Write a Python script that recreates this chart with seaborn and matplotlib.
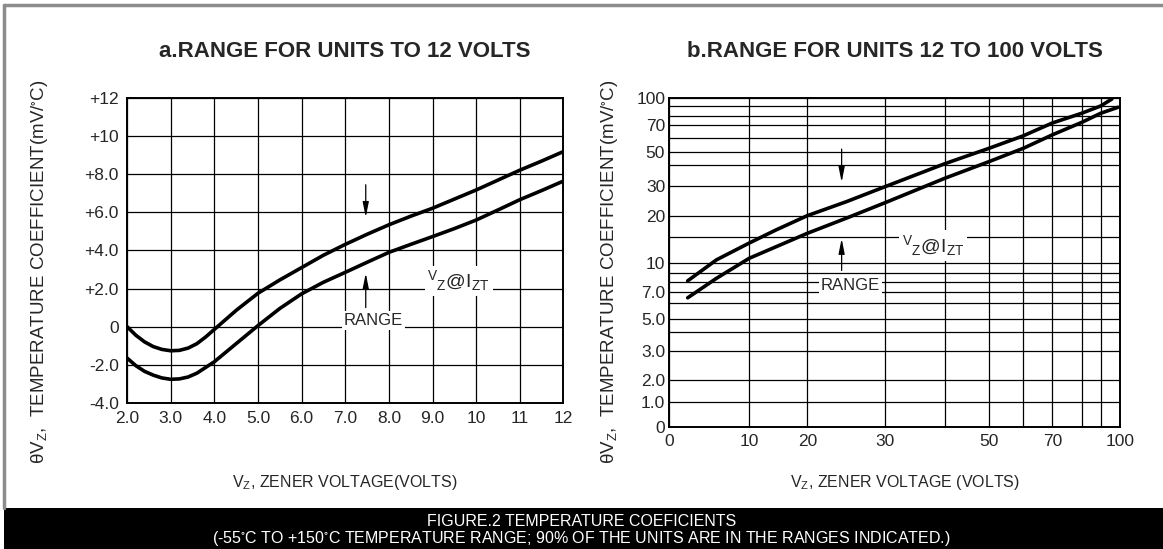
import numpy as np
import pandas as pd
import matplotlib
matplotlib.use("Agg")
import matplotlib.pyplot as plt
import seaborn as sns

# Chart a: units up to 12 V
vz_a = [2.0, 2.2, 2.4, 2.6, 2.8, 3.0, 3.2, 3.4, 3.6, 3.8, 4.0, 4.5, 5.0, 5.5,
        6.0, 6.5, 7.0, 7.5, 8.0, 8.5, 9.0, 9.5, 10.0, 10.5, 11.0, 11.5, 12.0]
tc_a_upper = [0.0, -0.45, -0.8, -1.05, -1.2, -1.27, -1.25, -1.13, -0.9, -0.55, -0.15,
              0.85, 1.75, 2.45, 3.1, 3.75, 4.32, 4.85, 5.35, 5.8, 6.22, 6.7, 7.18,
              7.7, 8.22, 8.7, 9.2]
tc_a_lower = [-1.65, -2.05, -2.35, -2.55, -2.7, -2.77, -2.75, -2.65, -2.45, -2.15, -1.85,
              -0.9, 0.05, 0.95, 1.72, 2.33, 2.85, 3.38, 3.9, 4.32, 4.73, 5.15, 5.6,
              6.13, 6.67, 7.15, 7.65]
xticks_a = [2, 3, 4, 5, 6, 7, 8, 9, 10, 11, 12]
xlabels_a = ["2.0", "3.0", "4.0", "5.0", "6.0", "7.0", "8.0", "9.0", "10", "11", "12"]
yticks_a = [-4, -2, 0, 2, 4, 6, 8, 10, 12]
ylabels_a = ["-4.0", "-2.0", "0", "+2.0", "+4.0", "+6.0", "+8.0", "+10", "+12"]

# Chart b: units 12 to 100 V
vz_b_upper = [2.3, 5.9, 10, 14.6, 20, 25, 30, 40, 50, 60, 70, 80, 90, 95.8]
tc_b_upper = [8.1, 10.6, 13.8, 16.6, 20, 24.7, 29.8, 41, 52.5, 61.8, 71.9, 82.7, 90, 99]
vz_b_lower = [2.3, 5.9, 10, 20, 25, 30, 40, 50, 60, 70, 80, 90, 99]
tc_b_lower = [6.5, 8.4, 10.9, 15.8, 19.4, 24.4, 33.7, 42.5, 52.5, 62.5, 72.6, 82.7, 88.7]
xgrid_b = [0, 10, 20, 30, 40, 50, 60, 70, 80, 90, 100]
xticks_b = [0, 10, 20, 30, 50, 70, 100]
ygrid_b = [0, 1, 2, 3, 4, 5, 6, 7, 8, 9, 10, 15, 20, 30, 40, 50, 60, 70, 80, 90, 100]
yticks_b = [0, 1, 2, 3, 5, 7, 10, 20, 30, 50, 70, 100]
ylabels_b = ["0", "1.0", "2.0", "3.0", "5.0", "7.0", "10", "20", "30", "50", "70", "100"]

# the datasheet's hand-drawn axis spacing (fraction of axis length per grid value)
xfrac_b = [0, 0.1775, 0.3062, 0.4793, 0.6117, 0.7093, 0.7854, 0.8498, 0.915, 0.9572, 1.0]
yfrac_b = [0, 0.0778, 0.1438, 0.2328, 0.2888, 0.3292, 0.3769, 0.4103, 0.4426, 0.4681,
           0.4994, 0.5793, 0.6432, 0.7334, 0.7973, 0.8377, 0.8784, 0.9198, 0.9462,
           0.9766, 1.0]

sns.set_style("white")
plt.rcParams['font.family'] = ['Liberation Sans', 'DejaVu Sans']
plt.rcParams['mathtext.default'] = 'regular'

fig = plt.figure(figsize=(11.63, 5.49), dpi=100)
ax_a = fig.add_axes([0.1092, 0.2665, 0.3753, 0.5545])
ax_b = fig.add_axes([0.5755, 0.2217, 0.3875, 0.5993])

arrow = dict(arrowstyle="-|>,head_length=0.9,head_width=0.18", color="black", lw=0.9)
vz_izt = "$^{V}$$_{Z}$@I$_{ZT}$"

# ---- chart a
df_a = pd.DataFrame({"vz": vz_a * 2, "tc": tc_a_upper + tc_a_lower,
                     "edge": ["upper"] * len(vz_a) + ["lower"] * len(vz_a)})
sns.lineplot(data=df_a, x="vz", y="tc", units="edge", estimator=None, sort=False,
             color="black", linewidth=2.6, ax=ax_a, zorder=3)
ax_a.set_xlim(2, 12)
ax_a.set_ylim(-4, 12)
ax_a.set_xticks(xticks_a, xlabels_a)
ax_a.set_yticks(yticks_a, ylabels_a)
ax_a.grid(True, color="black", linewidth=0.9)
ax_a.tick_params(length=0, labelsize=12.5, pad=6)
ax_a.set_xlabel("")
ax_a.set_ylabel("")
ax_a.set_title("a.RANGE FOR UNITS TO 12 VOLTS", fontsize=16, fontweight="bold", pad=30)

ax_a.annotate("", xy=(7.47, 5.6), xytext=(7.47, 7.6), arrowprops=arrow)
ax_a.annotate("", xy=(7.47, 2.95), xytext=(7.47, 0.85), arrowprops=arrow)
ax_a.text(7.65, 0.3, "RANGE", fontsize=12, ha="center", va="center", zorder=4,
          bbox=dict(facecolor="white", edgecolor="none", pad=1.5))
ax_a.text(9.6, 2.4, vz_izt, fontsize=14, ha="center", va="center", zorder=4,
          bbox=dict(facecolor="white", edgecolor="none", pad=2))

# ---- chart b, on the datasheet's own piecewise scale
def fwd_x(v):
    return np.interp(v, xgrid_b, xfrac_b)

def inv_x(u):
    return np.interp(u, xfrac_b, xgrid_b)

def fwd_y(v):
    return np.interp(v, ygrid_b, yfrac_b)

def inv_y(u):
    return np.interp(u, yfrac_b, ygrid_b)

ax_b.set_xscale("function", functions=(fwd_x, inv_x))
ax_b.set_yscale("function", functions=(fwd_y, inv_y))

df_b = pd.DataFrame({"vz": vz_b_upper + vz_b_lower, "tc": tc_b_upper + tc_b_lower,
                     "edge": ["upper"] * len(vz_b_upper) + ["lower"] * len(vz_b_lower)})
sns.lineplot(data=df_b, x="vz", y="tc", units="edge", estimator=None, sort=False,
             color="black", linewidth=2.6, ax=ax_b, zorder=3)
ax_b.set_xlim(0, 100)
ax_b.set_ylim(0, 100)
ax_b.set_xticks(xgrid_b)
ax_b.set_xticklabels([str(v) if v in xticks_b else "" for v in xgrid_b])
ax_b.set_yticks(ygrid_b)
ax_b.set_yticklabels([ylabels_b[yticks_b.index(v)] if v in yticks_b else "" for v in ygrid_b])
ax_b.grid(True, color="black", linewidth=0.9)
ax_b.tick_params(length=0, labelsize=12.5, pad=3)
ax_b.tick_params(axis="x", pad=5)
ax_b.set_xlabel("")
ax_b.set_ylabel("")
ax_b.set_title("b.RANGE FOR UNITS 12 TO 100 VOLTS", fontsize=16, fontweight="bold", pad=30)

ax_b.annotate("", xy=(24.4, 30.5), xytext=(24.4, 54), arrowprops=arrow)
ax_b.annotate("", xy=(24.4, 15.2), xytext=(24.4, 9.0), arrowprops=arrow)
ax_b.text(25.5, 7.6, "RANGE", fontsize=12, ha="center", va="center", zorder=4,
          bbox=dict(facecolor="white", edgecolor="none", pad=1.5))
ax_b.text(38, 13.3, vz_izt, fontsize=14, ha="center", va="center", zorder=4,
          bbox=dict(facecolor="white", edgecolor="none", pad=2))

for ax in (ax_a, ax_b):
    for s in ax.spines.values():
        s.set_color("black")
        s.set_linewidth(1.4)

# axis titles
ylab = "θV$_Z$,  TEMPERATURE COEFFICIENT(mV/$^{\\circ}$C)"
fig.text(40 / 1163, 1 - 272 / 549, ylab, rotation=90, ha="center", va="center", fontsize=13.5)
fig.text(609 / 1163, 1 - 272 / 549, ylab, rotation=90, ha="center", va="center", fontsize=13.5)
fig.text(345 / 1163, 1 - 482 / 549, "V$_Z$, ZENER VOLTAGE(VOLTS)", ha="center", va="center",
         fontsize=11.5)
fig.text(905 / 1163, 1 - 482 / 549, "V$_Z$, ZENER VOLTAGE (VOLTS)", ha="center", va="center",
         fontsize=11.5)

# frame and caption banner
fig.add_artist(plt.Line2D([4 / 1163, 4 / 1163], [41 / 549, 1 - 5 / 549], color="#8c8c8c", lw=2.5))
fig.add_artist(plt.Line2D([4 / 1163, 1], [1 - 5 / 549, 1 - 5 / 549], color="#8c8c8c", lw=2.5))
fig.add_artist(plt.Rectangle((4 / 1163, 0), 1, 41 / 549, facecolor="black", edgecolor="none"))
fig.text(0.5, 1 - 521 / 549, "FIGURE.2 TEMPERATURE COEFICIENTS", color="white",
         ha="center", va="center", fontsize=11.5)
fig.text(0.5, 1 - 539 / 549,
         "(-55$^{\\circ}$C TO +150$^{\\circ}$C TEMPERATURE RANGE; 90% OF THE UNITS ARE IN THE RANGES INDICATED.)",
         color="white", ha="center", va="center", fontsize=11.5)

fig.savefig("out.png", dpi=100)
